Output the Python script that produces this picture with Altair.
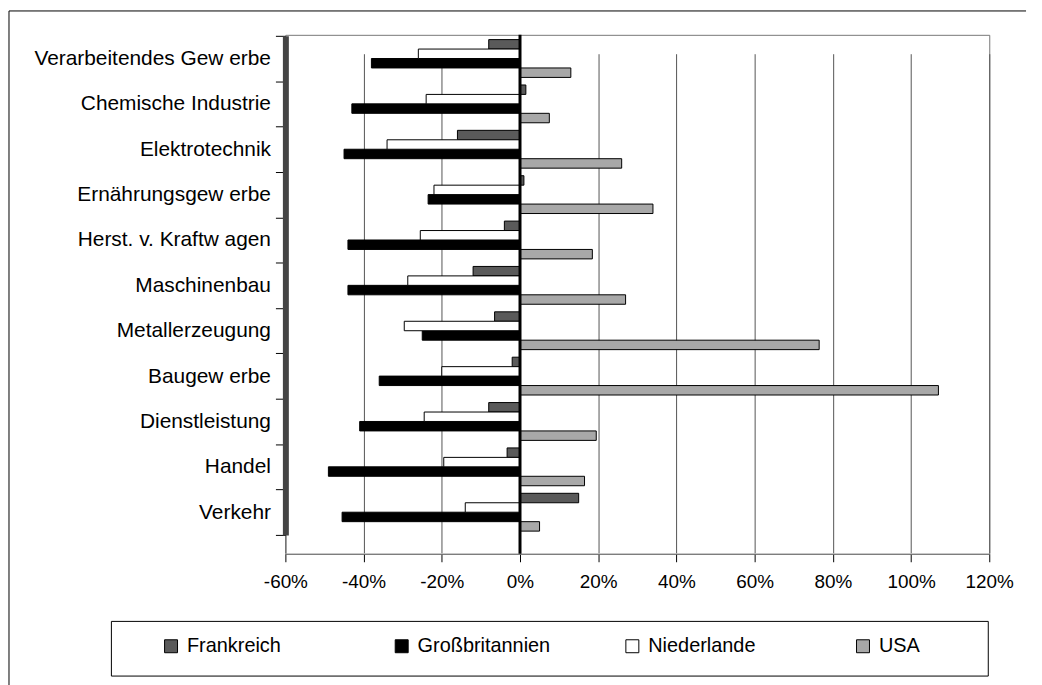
import altair as alt
import pandas as pd

categories = [
    "Verarbeitendes Gew erbe",
    "Chemische Industrie",
    "Elektrotechnik",
    "Ernährungsgew erbe",
    "Herst. v. Kraftw agen",
    "Maschinenbau",
    "Metallerzeugung",
    "Baugew erbe",
    "Dienstleistung",
    "Handel",
    "Verkehr",
]
frankreich = [-8, 1.5, -16, 1, -4, -12, -6.5, -2, -8, -3.3, 15]
grossbritannien = [-38, -43, -45, -23.5, -44, -44, -25, -36, -41, -49, -45.5]
niederlande = [-26, -24, -34, -22, -25.5, -28.7, -29.6, -20, -24.5, -19.5, -14]
usa = [13, 7.5, 26, 34, 18.5, 27, 76.5, 107, 19.5, 16.5, 5]

series_names = ["Frankreich", "Großbritannien", "Niederlande", "USA"]
series_values = [frankreich, grossbritannien, niederlande, usa]
series_colors = ["#5a5a5a", "#000000", "#ffffff", "#a8a8a8"]
row_order = ["Frankreich", "Niederlande", "Großbritannien", "USA"]
tick_values = [-60, -40, -20, 0, 20, 40, 60, 80, 100, 120]

rows = []
for name, vals in zip(series_names, series_values):
    for cat, v in zip(categories, vals):
        rows.append({"Kategorie": cat, "Land": name, "Wert": v})
df = pd.DataFrame(rows)

FONT = "Liberation Sans"

xscale = alt.Scale(domain=[-60, 120], nice=False, zero=False)

bars = alt.Chart(df).mark_bar(stroke="black", strokeWidth=1).encode(
    y=alt.Y(
        "Kategorie:N",
        sort=categories,
        scale=alt.Scale(range=[1, 503], paddingInner=0, paddingOuter=0),
        axis=alt.Axis(
            title=None,
            labelFontSize=21,
            labelFont=FONT,
            labelColor="black",
            labelPadding=5,
            labelLimit=400,
            tickSize=10,
            tickColor="black",
            tickBand="extent",
            domainWidth=6,
            domainColor="#444444",
            grid=False,
        ),
    ),
    yOffset=alt.YOffset(
        "Land:N", sort=row_order, scale=alt.Scale(paddingInner=0, paddingOuter=0.4)
    ),
    x=alt.X(
        "Wert:Q",
        scale=xscale,
        axis=alt.Axis(
            title=None,
            values=tick_values,
            labelExpr="datum.value + '%'",
            labelFontSize=19,
            labelFont=FONT,
            labelColor="black",
            labelPadding=11,
            labelFlush=False,
            labelOverlap=False,
            tickSize=8,
            tickColor="black",
            domainColor="#777777",
            grid=True,
            gridColor="#555555",
            gridWidth=1,
        ),
    ),
    color=alt.Color(
        "Land:N",
        scale=alt.Scale(domain=series_names, range=series_colors),
        legend=alt.Legend(
            title=None,
            orient="none",
            legendX=-125,
            legendY=605,
            direction="horizontal",
            columns=4,
            gridAlign="all",
            columnPadding=72,
            symbolType="square",
            symbolSize=170,
            symbolStrokeColor="black",
            symbolStrokeWidth=1,
            labelFontSize=20,
            labelFont=FONT,
            labelColor="black",
            labelOffset=6,
            padding=0,
        ),
    ),
)

zero_rule = alt.Chart(pd.DataFrame({"z": [0]})).mark_rule(
    color="black", strokeWidth=3
).encode(x=alt.X("z:Q", scale=xscale))

deco = pd.DataFrame({"d": [0]})
legend_box = alt.Chart(deco).mark_rect(
    fill="transparent", stroke="black", strokeWidth=1
).encode(
    x=alt.value(-175), x2=alt.value(707), y=alt.value(590), y2=alt.value(645)
)
frame_left = alt.Chart(deco).mark_rule(color="black", strokeWidth=1).encode(
    x=alt.value(-278), y=alt.value(-24), y2=alt.value(660)
)
frame_top = alt.Chart(deco).mark_rule(color="black", strokeWidth=1).encode(
    x=alt.value(-278), x2=alt.value(745), y=alt.value(-24)
)

chart = (
    alt.layer(bars, zero_rule, legend_box, frame_left, frame_top)
    .properties(
        width=708,
        height=522,
        autosize=alt.AutoSizeParams(type="none"),
        padding={"left": 279, "top": 25, "right": 45, "bottom": 130},
        background="white",
    )
    .configure_view(stroke="#777777", strokeWidth=1)
)

chart.save("out.html", embed_options={"renderer": "svg", "actions": False})
